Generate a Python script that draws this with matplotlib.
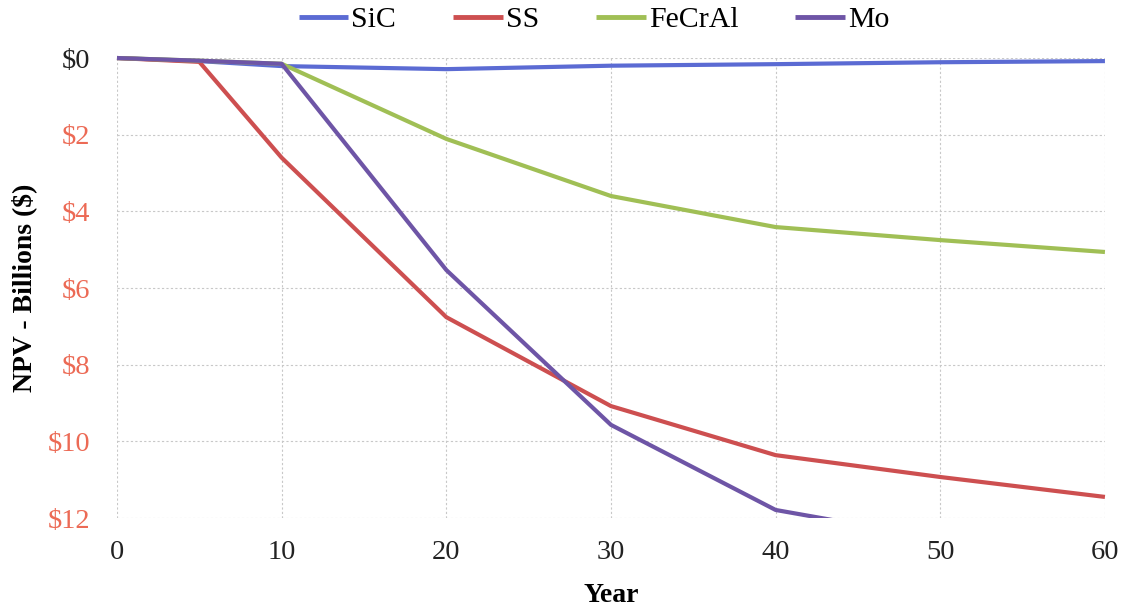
import matplotlib
matplotlib.use("Agg")
import matplotlib.pyplot as plt
from matplotlib.patches import Rectangle

# Net present value (billions of dollars) over plant life
years = [0, 5, 10, 20, 30, 40, 50, 60]
sic = [0.0, 0.08, 0.21, 0.29, 0.20, 0.16, 0.11, 0.08]
ss = [0.0, 0.10, 2.60, 6.76, 9.08, 10.36, 10.93, 11.45]
fecral = [0.0, 0.07, 0.15, 2.11, 3.60, 4.41, 4.75, 5.06]
mo = [0.0, 0.07, 0.15, 5.53, 9.57, 11.79, 12.55, 13.25]

series_names = ["SiC", "SS", "FeCrAl", "Mo"]
series_values = [sic, ss, fecral, mo]
series_colors = ["#5B6BD3", "#CD4F50", "#A0BF55", "#6E55A6"]

x_ticks = [0, 10, 20, 30, 40, 50, 60]
y_ticks = [0, 2, 4, 6, 8, 10, 12]
y_tick_labels = ["$0", "$2", "$4", "$6", "$8", "$10", "$12"]

plt.rcParams["font.family"] = ["Liberation Serif", "DejaVu Serif"]

fig = plt.figure(figsize=(11.26, 6.07), dpi=100)
ax = fig.add_axes([0.1039, 0.1466, 0.8774, 0.7578])

# clip at the bottom of the plot but let the top edge show the full stroke
clip_rect = Rectangle((-0.01, 0), 1.02, 1.05, transform=ax.transAxes,
                      facecolor="none", edgecolor="none")
ax.add_patch(clip_rect)

for name, vals, col in zip(series_names, series_values, series_colors):
    line, = ax.plot(years, vals, color=col, lw=3.0, label=name,
                    solid_joinstyle="round", solid_capstyle="butt")
    line.set_clip_path(clip_rect)

ax.set_xlim(0, 60)
ax.set_ylim(12, 0)
ax.set_xticks(x_ticks)
ax.set_yticks(y_ticks)
ax.set_yticklabels(y_tick_labels)
ax.tick_params(axis="both", length=0, labelsize=20.5, colors="#222222")
ax.tick_params(axis="y", pad=19)
ax.tick_params(axis="x", pad=16)
for i, lab in enumerate(ax.get_yticklabels()):
    lab.set_color("#222222" if i == 0 else "#EC6A55")

ax.grid(True, color="#C8C8C8", linestyle=(0, (2, 2)), linewidth=0.8)
for sp in ax.spines.values():
    sp.set_visible(False)
ax.set_axisbelow(True)

ax.set_xlabel("Year", fontsize=20, fontweight="bold", labelpad=13)
ax.set_ylabel("NPV - Billions ($)", fontsize=20, fontweight="bold", labelpad=8)

leg = fig.legend(loc="upper center", bbox_to_anchor=(0.5275, 1.034), ncol=4,
                 frameon=False, fontsize=21.5, handlelength=1.67,
                 handletextpad=0.1, columnspacing=1.9)
for h in leg.get_lines():
    h.set_linewidth(3.5)

fig.savefig("out.png", dpi=100, facecolor="white")
